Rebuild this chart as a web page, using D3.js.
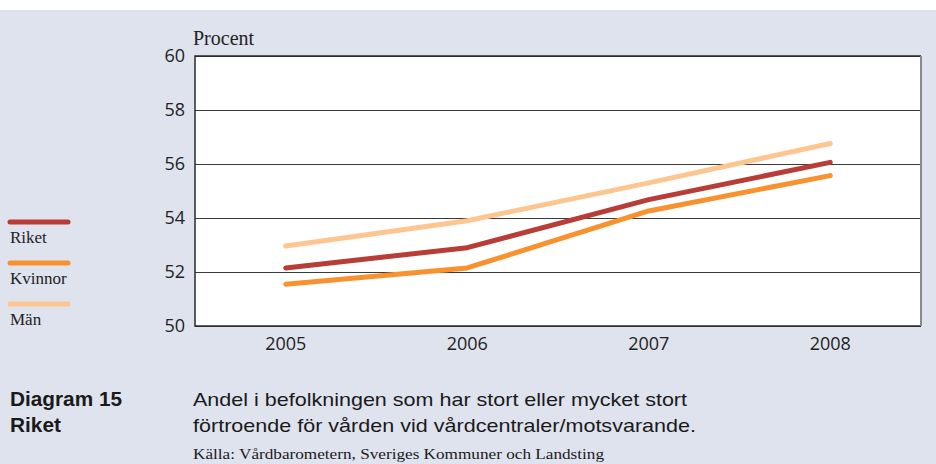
<!DOCTYPE html>
<html>
<head>
<meta charset="utf-8">
<script src="https://cdn.jsdelivr.net/npm/d3@7"></script>
<style>
  body { margin: 0; background: #fff; }
  svg { display: block; }
</style>
</head>
<body>
<svg id="chart" width="936" height="464"></svg>
<script>
const years = ['2005', '2006', '2007', '2008']
const riket = [52.15, 52.9, 54.68, 56.06]
const kvinnor = [51.55, 52.15, 54.26, 55.57]
const man = [52.96, 53.9, 55.3, 56.76]
const yTicks = [50, 52, 54, 56, 58, 60]

const series = [
  {name: 'Riket', values: riket, color: '#b73d36'},
  {name: 'Kvinnor', values: kvinnor, color: '#f7922f'},
  {name: 'Män', values: man, color: '#fdc690'}
]

const margin = {top: 56, right: 15, bottom: 138, left: 195}
const width = 936, height = 464
const svg = d3.select('#chart')

// page background
svg.append('rect').attr('x', 0).attr('y', 10).attr('width', width).attr('height', height - 10).attr('fill', '#dfe3ee')

const x = d3.scaleBand()
  .domain(years)
  .range([margin.left, width - margin.right])

const y = d3.scaleLinear()
  .domain([50, 60])
  .range([height - margin.bottom, margin.top])

// plot area
svg.append('rect')
  .attr('x', margin.left).attr('y', margin.top)
  .attr('width', width - margin.right - margin.left)
  .attr('height', height - margin.bottom - margin.top)
  .attr('fill', '#fff')

// gridlines
svg.append('g')
  .attr('transform', `translate(${margin.left},0)`)
  .call(d3.axisLeft(y).tickValues(yTicks).tickSize(-(width - margin.right - margin.left)).tickFormat(''))
  .call(g => g.select('.domain').remove())
  .call(g => g.selectAll('.tick line').attr('stroke', '#3a3a3a').attr('stroke-width', 1))

// y labels
svg.append('g')
  .attr('transform', `translate(${margin.left},0)`)
  .call(d3.axisLeft(y).tickValues(yTicks).tickSize(0).tickPadding(10))
  .call(g => g.select('.domain').remove())
  .call(g => g.selectAll('text').attr('font-family', 'Open Sans, sans-serif').attr('font-size', 18).attr('fill', '#222'))

// x labels
svg.append('g')
  .attr('transform', `translate(0,${height - margin.bottom})`)
  .call(d3.axisBottom(x).tickSize(0).tickPadding(11))
  .call(g => g.select('.domain').remove())
  .call(g => g.selectAll('text').attr('font-family', 'Open Sans, sans-serif').attr('font-size', 18).attr('fill', '#222'))

// frame
const x0 = margin.left, x1 = width - margin.right, y0 = margin.top, y1 = height - margin.bottom
svg.append('path')
  .attr('d', `M${x1},${y0}H${x0}V${y1}H${x1}`)
  .attr('fill', 'none').attr('stroke', '#2a2a2a').attr('stroke-width', 1.5)
svg.append('line')
  .attr('x1', x1).attr('x2', x1).attr('y1', y0).attr('y2', y1)
  .attr('stroke', '#8a8a8a').attr('stroke-width', 2)

svg.append('text')
  .attr('x', margin.left - 2).attr('y', 45)
  .attr('font-family', 'Liberation Serif, serif').attr('font-size', 20).attr('fill', '#222')
  .text('Procent')

const line = d3.line()
  .x((d, i) => x(years[i]) + x.bandwidth() / 2)
  .y(d => y(d))

svg.append('g').selectAll('path')
  .data(series.slice().reverse())
  .join('path')
  .attr('d', d => line(d.values))
  .attr('fill', 'none')
  .attr('stroke', d => d.color)
  .attr('stroke-width', 5)
  .attr('stroke-linejoin', 'round')
  .attr('stroke-linecap', 'round')

// legend
const legend = svg.append('g').selectAll('g')
  .data(series)
  .join('g')
  .attr('transform', (d, i) => `translate(10,${222 + i * 41})`)
legend.append('line')
  .attr('x1', 0).attr('x2', 58)
  .attr('stroke', d => d.color).attr('stroke-width', 5).attr('stroke-linecap', 'round')
legend.append('text')
  .attr('x', 0).attr('y', 21)
  .attr('font-family', 'Liberation Serif, serif').attr('font-size', 17).attr('fill', '#222')
  .text(d => d.name)

// caption
const cap = svg.append('g').attr('font-family', 'Liberation Sans, Arial, sans-serif').attr('fill', '#1a1a1a')
cap.append('text').attr('x', 10).attr('y', 406).attr('font-size', 20).attr('font-weight', 'bold')
  .attr('textLength', 112).attr('lengthAdjust', 'spacingAndGlyphs').text('Diagram 15')
cap.append('text').attr('x', 10).attr('y', 432).attr('font-size', 20).attr('font-weight', 'bold')
  .attr('textLength', 51).attr('lengthAdjust', 'spacingAndGlyphs').text('Riket')
cap.append('text').attr('x', 193).attr('y', 406).attr('font-size', 19)
  .attr('textLength', 494).attr('lengthAdjust', 'spacingAndGlyphs').text('Andel i befolkningen som har stort eller mycket stort')
cap.append('text').attr('x', 193).attr('y', 432).attr('font-size', 19)
  .attr('textLength', 503).attr('lengthAdjust', 'spacingAndGlyphs').text('förtroende för vården vid vårdcentraler/motsvarande.')
cap.append('text').attr('x', 193).attr('y', 459).attr('font-size', 14)
  .attr('textLength', 411).attr('lengthAdjust', 'spacingAndGlyphs')
  .attr('font-family', 'Liberation Serif, serif').text('Källa: Vårdbarometern, Sveriges Kommuner och Landsting')
</script>
</body>
</html>
